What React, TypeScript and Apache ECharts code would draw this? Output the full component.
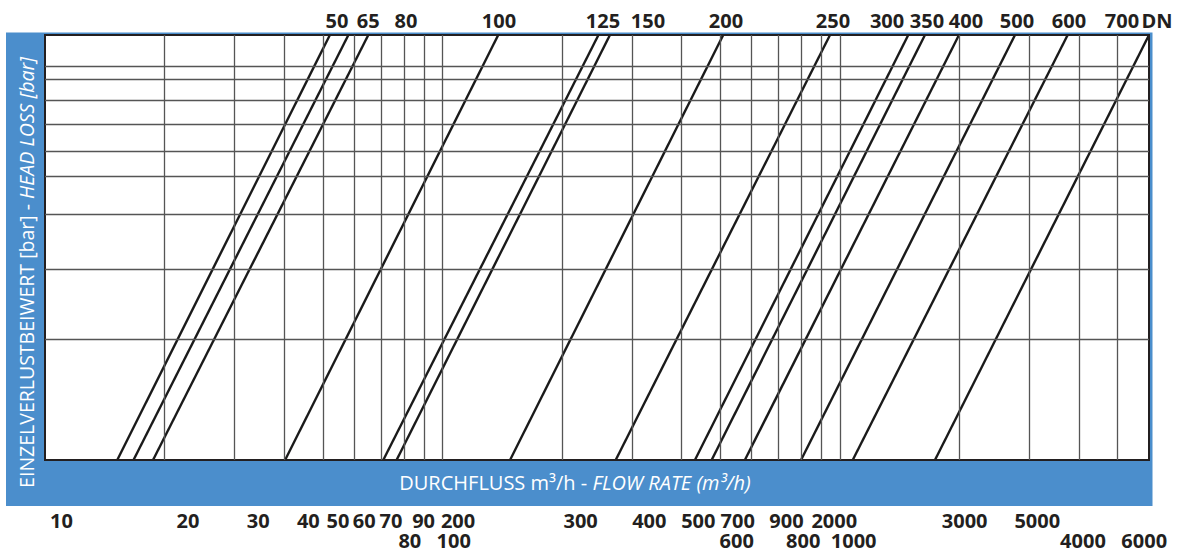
import React, { useEffect, useRef } from "react";
import * as echarts from "echarts";

// ---- data ----
const FLOW_MIN = 10;
const FLOW_MAX = 6000;
const HEAD_MIN = 0.1;
const HEAD_MAX = 1.15;

// vertical grid lines (flow, m³/h)
const flowGrid = [20, 30, 40, 50, 60, 70, 80, 90, 100, 200, 300, 400, 500, 600, 700, 800, 900, 1000, 2000, 3000, 4000, 5000];
// horizontal grid lines (head loss, bar) — as drawn in the picture
const headGrid = [0.2, 0.305, 0.405, 0.505, 0.595, 0.685, 0.79, 0.885, 0.96];

// DN curves: flow where each line meets the bottom (HEAD_MIN) and the top (HEAD_MAX)
const dnNames = ["DN 50", "DN 65", "DN 80", "DN 100", "DN 125", "DN 150", "DN 200", "DN 250", "DN 300", "DN 350", "DN 400", "DN 500", "DN 600", "DN 700"];
const dnFlowAtMinHead = [15.2, 16.7, 18.7, 40.2, 71.0, 76.7, 148, 273, 432, 476, 577, 799, 1078, 1736];
const dnFlowAtMaxHead = [52.1, 58.0, 65.1, 138.2, 247, 264, 509, 945, 1487, 1638, 1995, 2760, 3745, 6000];

// top DN labels and the flow value above which each is centred
const topLabels = ["50", "65", "80", "100", "125", "150", "200", "250", "300", "350", "400", "500", "600", "700", "DN"];
const topLabelAnchors = [54.3, 65.1, 81.0, 138.8, 253.6, 329.2, 517.2, 961.4, 1315, 1657, 2078, 2792, 3774, 5130, 6284];

// bottom tick labels (two rows) and the flow value below which each is centred
const bottomRow1Labels = ["10", "20", "30", "40", "50", "60", "70", "90", "200", "300", "400", "500", "700", "900", "2000", "3000", "5000"];
const bottomRow1Anchors = [11.0, 22.9, 34.4, 46.0, 54.6, 63.6, 74.2, 89.7, 109.5, 222.8, 331.7, 440.6, 553.5, 734.2, 968.7, 2062, 3141];
const bottomRow2Labels = ["80", "100", "600", "800", "1000", "4000", "6000"];
const bottomRow2Anchors = [82.8, 106.8, 550.3, 809.4, 1084, 4093, 5837];

const xTitleNormal = "DURCHFLUSS m³/h - ";
const xTitleItalic = "FLOW RATE (m³/h)";
const yTitleNormal = "EINZELVERLUSTBEIWERT [bar] - ";
const yTitleItalic = "HEAD LOSS [bar]";

const BLUE = "#4b8ecc";
const INK = "#231f20";
const FONT = "'Open Sans', 'DejaVu Sans', sans-serif";

export default function App() {
  const ref = useRef<HTMLDivElement>(null);

  useEffect(() => {
    document.body.style.margin = "0";
    if (!ref.current) return;
    const chart = echarts.init(ref.current, undefined, { renderer: "svg" });

    const gridLeft = 45;
    const gridTop = 35;
    const gridRight = 1149;
    const gridBottom = 460;

    const series: any[] = [
      {
        type: "line",
        name: "grid",
        data: [[FLOW_MIN, HEAD_MIN]],
        showSymbol: false,
        symbol: "none",
        lineStyle: { width: 0 },
        silent: true,
        z: 1,
        markLine: {
          silent: true,
          symbol: ["none", "none"],
          label: { show: false },
          animation: false,
          lineStyle: { color: "#555555", width: 1.3, type: "solid" },
          emphasis: { disabled: true },
          data: [
            ...flowGrid.map((v) => ({ xAxis: v })),
            ...headGrid.map((v) => ({ yAxis: v })),
          ],
        },
      },
      ...dnNames.map((name, i) => ({
        type: "line",
        name,
        data: [
          [dnFlowAtMinHead[i], HEAD_MIN],
          [dnFlowAtMaxHead[i], HEAD_MAX],
        ],
        showSymbol: false,
        symbol: "none",
        silent: true,
        z: 3,
        lineStyle: { color: "#1a1a1a", width: 2.4 },
      })),
    ];

    chart.setOption({
      animation: false,
      grid: {
        left: gridLeft,
        top: gridTop,
        width: gridRight - gridLeft,
        height: gridBottom - gridTop,
        show: true,
        backgroundColor: "transparent",
        borderColor: INK,
        borderWidth: 2,
        z: 4,
      },
      xAxis: {
        type: "log",
        logBase: 10,
        min: FLOW_MIN,
        max: FLOW_MAX,
        axisLine: { show: false },
        axisTick: { show: false },
        axisLabel: { show: false },
        splitLine: { show: false },
        minorSplitLine: { show: false },
      },
      yAxis: {
        type: "log",
        logBase: 10,
        min: HEAD_MIN,
        max: HEAD_MAX,
        axisLine: { show: false },
        axisTick: { show: false },
        axisLabel: { show: false },
        splitLine: { show: false },
      },
      series,
    });

    const px = (v: number) => chart.convertToPixel({ xAxisIndex: 0 }, v) as number;

    const labelText = (text: string, x: number, y: number) => ({
      type: "text",
      x,
      y,
      z: 10,
      style: {
        text,
        fill: INK,
        fontSize: 20,
        fontWeight: "bold",
        fontFamily: FONT,
        textAlign: "center",
        textVerticalAlign: "middle",
      },
    });

    const graphic: any[] = [
      {
        type: "rect",
        z: -10,
        shape: { x: 6, y: 32.5, width: 1146.5, height: 473.5 },
        style: { fill: BLUE },
      },
      {
        type: "rect",
        z: -9,
        shape: { x: gridLeft, y: gridTop, width: gridRight - gridLeft, height: gridBottom - gridTop },
        style: { fill: "#ffffff" },
      },
      {
        type: "text",
        x: 575,
        y: 482,
        z: 10,
        style: {
          text: `{n|${xTitleNormal}}{i|${xTitleItalic}}`,
          textAlign: "center",
          textVerticalAlign: "middle",
          rich: {
            n: { fill: "#ffffff", fontSize: 20, fontFamily: FONT, fontStyle: "normal" },
            i: { fill: "#ffffff", fontSize: 20, fontFamily: FONT, fontStyle: "italic" },
          },
        },
      },
      {
        type: "text",
        x: 26.5,
        y: 272.5,
        rotation: Math.PI / 2,
        z: 10,
        style: {
          text: `{n|${yTitleNormal}}{i|${yTitleItalic}}`,
          textAlign: "center",
          textVerticalAlign: "middle",
          rich: {
            n: { fill: "#ffffff", fontSize: 19.5, fontFamily: FONT, fontStyle: "normal" },
            i: { fill: "#ffffff", fontSize: 19.5, fontFamily: FONT, fontStyle: "italic" },
          },
        },
      },
      ...topLabels.map((t, i) => labelText(t, px(topLabelAnchors[i]), 20)),
      ...bottomRow1Labels.map((t, i) => labelText(t, px(bottomRow1Anchors[i]), 520)),
      ...bottomRow2Labels.map((t, i) => labelText(t, px(bottomRow2Anchors[i]), 540)),
    ];

    chart.setOption({ graphic });

    return () => {
      chart.dispose();
    };
  }, []);

  return <div ref={ref} style={{ width: 1178, height: 550 }} />;
}
